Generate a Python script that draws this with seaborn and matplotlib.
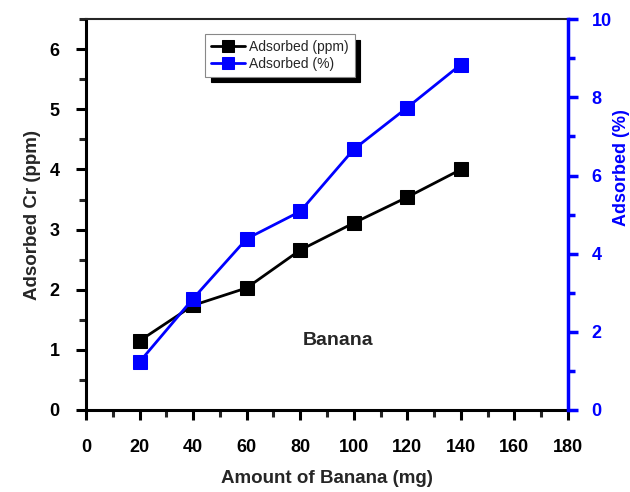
import matplotlib
matplotlib.use('Agg')
import pandas as pd
import matplotlib.pyplot as plt
import seaborn as sns
from matplotlib.ticker import MultipleLocator

# data
banana_mg = [20, 40, 60, 80, 100, 120, 140]
adsorbed_ppm = [1.15, 1.74, 2.03, 2.66, 3.11, 3.54, 4.00]
adsorbed_pct = [1.23, 2.85, 4.38, 5.08, 6.67, 7.74, 8.84]

df = pd.DataFrame({'mg': banana_mg, 'ppm': adsorbed_ppm, 'pct': adsorbed_pct})

sns.set_style('ticks')
plt.rcParams['font.family'] = ['Liberation Sans', 'DejaVu Sans']

fig = plt.figure(figsize=(6.3, 4.92), dpi=100)
ax = fig.add_axes([0.1365, 0.1667, 0.765, 0.7943])
ax2 = ax.twinx()

sns.lineplot(data=df, x='mg', y='ppm', ax=ax, color='black', marker='s',
             markersize=10, markeredgecolor='black', linewidth=2, label='Adsorbed (ppm)',
             legend=False)
sns.lineplot(data=df, x='mg', y='pct', ax=ax2, color='#0000ff', marker='s',
             markersize=10, markeredgecolor='#0000ff', linewidth=2, label='Adsorbed (%)',
             legend=False)

ax.set_xlim(0, 180)
ax.set_ylim(0, 6.5)
ax2.set_ylim(0, 10)

ax.xaxis.set_major_locator(MultipleLocator(20))
ax.xaxis.set_minor_locator(MultipleLocator(10))
ax.yaxis.set_major_locator(MultipleLocator(1))
ax.yaxis.set_minor_locator(MultipleLocator(0.5))
ax2.yaxis.set_major_locator(MultipleLocator(2))
ax2.yaxis.set_minor_locator(MultipleLocator(1))

for s in ['left', 'bottom']:
    ax.spines[s].set_linewidth(2.2)
    ax.spines[s].set_color('black')
ax.spines['top'].set_linewidth(1.5)
ax.spines['right'].set_visible(False)
ax2.spines['right'].set_color('#0000ff')
ax2.spines['right'].set_linewidth(2.5)
for s in ['left', 'bottom', 'top']:
    ax2.spines[s].set_visible(False)

ax.tick_params(axis='both', which='major', direction='out', length=7, width=2.2,
               labelsize=13, colors='black')
ax.tick_params(axis='both', which='minor', direction='out', length=5, width=2.2)
ax.tick_params(axis='x', which='major', pad=14)
ax.tick_params(axis='y', which='major', pad=12)
ax2.tick_params(axis='y', which='major', direction='out', length=7, width=2.5,
                labelsize=13, colors='#0000ff', pad=10)
ax2.tick_params(axis='y', which='minor', direction='out', length=5, width=2.5,
                colors='#0000ff')
for lab in ax.get_xticklabels() + ax.get_yticklabels() + ax2.get_yticklabels():
    lab.set_fontweight('bold')

ax.set_xlabel('Amount of Banana (mg)', fontsize=13.5, fontweight='bold', labelpad=10)
ax.set_ylabel('Adsorbed Cr (ppm)', fontsize=13.5, fontweight='bold', labelpad=6)
ax2.set_ylabel('Adsorbed (%)', fontsize=13, fontweight='bold', color='#0000ff',
               rotation=90)
ax2.yaxis.set_label_coords(1.093, 0.62)

ax.text(94, 1.16, 'Banana', fontsize=14, fontweight='bold', ha='center', va='center')

h1, l1 = ax.get_legend_handles_labels()
h2, l2 = ax2.get_legend_handles_labels()
leg = ax2.legend(h1 + h2, l1 + l2, loc='upper left', bbox_to_anchor=(0.247, 0.962),
                 borderaxespad=0, fontsize=10, frameon=True, fancybox=False,
                 shadow={'ox': 4, 'oy': -4, 'color': 'black', 'alpha': 1},
                 handlelength=2.5, borderpad=0.4, labelspacing=0.25,
                 handletextpad=0.3, markerscale=0.9)
leg.get_frame().set_edgecolor('#888888')
leg.get_frame().set_linewidth(0.8)
leg.get_frame().set_alpha(1)

fig.savefig('out.png', dpi=100)
